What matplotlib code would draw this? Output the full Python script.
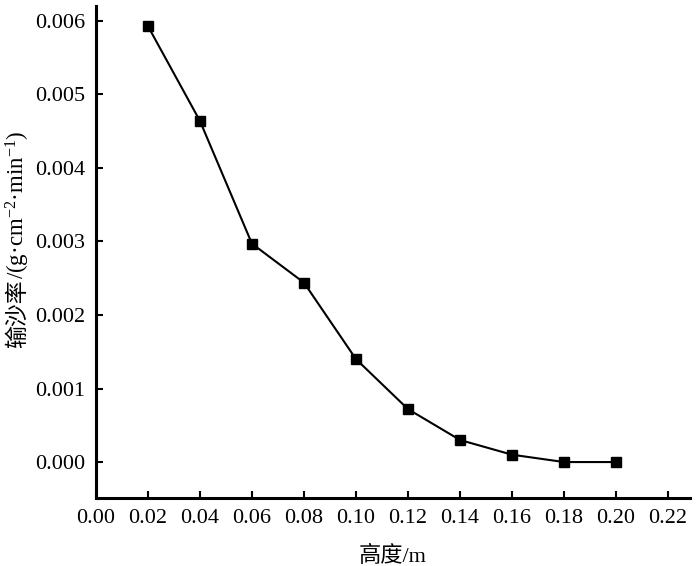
import matplotlib
matplotlib.use('Agg')
import matplotlib.pyplot as plt

# data
height = [0.02, 0.04, 0.06, 0.08, 0.10, 0.12, 0.14, 0.16, 0.18, 0.20]
rate = [0.00593, 0.00464, 0.00297, 0.00244, 0.00140, 0.00072, 0.00030, 0.00010, 0.0, 0.0]
xticks = [0.00, 0.02, 0.04, 0.06, 0.08, 0.10, 0.12, 0.14, 0.16, 0.18, 0.20, 0.22]
yticks = [0.000, 0.001, 0.002, 0.003, 0.004, 0.005, 0.006]

plt.rcParams['font.family'] = ['Liberation Serif', 'Noto Sans CJK SC', 'DejaVu Sans']
plt.rcParams['mathtext.fontset'] = 'custom'
plt.rcParams['mathtext.rm'] = 'Liberation Serif'
plt.rcParams['mathtext.it'] = 'Liberation Serif'
plt.rcParams['mathtext.default'] = 'regular'

fig = plt.figure(figsize=(7, 5.66), dpi=100)
ax = fig.add_axes([0.137, 0.120, 0.849, 0.869])

ax.plot(height, rate, color='black', lw=1.5, marker='s', ms=7.5)

ax.set_xlim(0, 0.2285)
ax.set_ylim(-0.00049, 0.0062)
ax.set_xticks(xticks)
ax.set_xticklabels(['%.2f' % v for v in xticks])
ax.set_yticks(yticks)
ax.set_yticklabels(['%.3f' % v for v in yticks])

for s in ['top', 'right']:
    ax.spines[s].set_visible(False)
for s in ['left', 'bottom']:
    ax.spines[s].set_linewidth(2.2)
ax.tick_params(direction='in', length=5, width=1.5, labelsize=16, pad=8)

ax.set_xlabel('高度/m', fontsize=16)
ax.xaxis.set_label_coords(0.5, -0.098)

# y label: chinese part and unit part drawn separately (mathtext has no CJK fallback)
t1 = fig.text(18 / 700, 1 - 348 / 566, '输沙率', rotation=90, fontsize=16.5,
              ha='center', va='bottom')
ax.annotate('/(g·cm$^{-2}$·min$^{-1}$)', xy=(0.5, 1), xycoords=t1,
            rotation=90, fontsize=16.5, ha='center', va='bottom',
            annotation_clip=False)

fig.savefig('out.png', dpi=100)
